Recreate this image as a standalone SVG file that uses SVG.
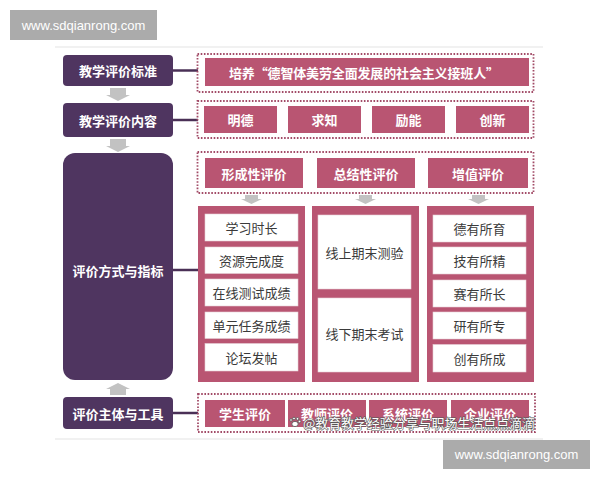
<svg xmlns="http://www.w3.org/2000/svg" width="600" height="480" viewBox="0 0 600 480">
<style>
text{font-family:"Noto Sans CJK SC","Liberation Sans",sans-serif;font-size:13px;text-anchor:middle;dominant-baseline:central}
.dark{fill:#4f3560}
.pink{fill:#b95572}
.white{fill:#fff;stroke:#e6cfd6;stroke-width:0.6}
.dot{fill:none;stroke:#a24b67;stroke-width:1.8;stroke-dasharray:1.6 1.6}
.lw{fill:#fff;font-weight:bold}
.ld{fill:#3a3a3a}
.arr{fill:#c2c2c2}
.conn{stroke:#4a3056;stroke-width:2.5}
.rule{stroke:#e3e3e3;stroke-width:1.2}
.wm{fill:#ababab}
.wmt{font-family:"Liberation Sans",Arial,sans-serif;font-size:13px;fill:#fff}
</style>
<rect width="600" height="480" fill="#fff"/>
<line class="rule" x1="55" y1="47" x2="543" y2="47"/>
<line class="rule" x1="55" y1="439" x2="543" y2="439"/>

<g id="connectors">
<line class="conn" x1="173" y1="70.5" x2="198" y2="70.5"/>
<line class="conn" x1="173" y1="120" x2="198" y2="120"/>
<line class="conn" x1="173" y1="270" x2="198" y2="270"/>
<line class="conn" x1="173" y1="413" x2="198" y2="413"/>
<path class="arr" d="M110,88 H126 V95 H130 L118,101 L106,95 H110 Z"/>
<path class="arr" d="M110,139 H126 V146 H130 L118,152 L106,146 H110 Z"/>
<path class="arr" d="M110,395 H126 V389 H130 L118,383 L106,389 H110 Z"/>
<path class="arr" d="M245,195 H258 V199 H262 L251.5,204 L241,199 H245 Z"/>
<path class="arr" d="M359,195 H372 V199 H376 L365.5,204 L355,199 H359 Z"/>
<path class="arr" d="M472,195 H485 V199 H489 L478.5,204 L468,199 H472 Z"/>
</g>

<g id="n-standard">
<rect class="dark" x="63" y="55" width="110" height="31" rx="4"/>
<text class="lw" x="118" y="70.5">教学评价标准</text>
</g>
<g id="n-content">
<rect class="dark" x="63" y="103" width="110" height="34" rx="4"/>
<text class="lw" x="118" y="120">教学评价内容</text>
</g>
<g id="n-method">
<rect class="dark" x="63" y="153" width="110" height="227" rx="12"/>
<text class="lw" x="118" y="270">评价方式与指标</text>
</g>
<g id="n-subject">
<rect class="dark" x="63" y="397" width="110" height="32" rx="4"/>
<text class="lw" x="118" y="413">评价主体与工具</text>
</g>

<g id="row-standard">
<rect class="dot" x="197.5" y="54" width="336" height="38"/>
<rect class="pink" x="205" y="58" width="324" height="28"/>
<text class="lw" x="364" y="72" textLength="270">培养“德智体美劳全面发展的社会主义接班人”</text>
</g>

<g id="row-content">
<rect class="dot" x="197.5" y="101" width="336" height="37"/>
<g id="c-mingde"><rect class="pink" x="204" y="106" width="73" height="27"/><text class="lw" x="240.5" y="119.5">明德</text></g>
<g id="c-qiuzhi"><rect class="pink" x="288" y="106" width="73" height="27"/><text class="lw" x="324.5" y="119.5">求知</text></g>
<g id="c-lineng"><rect class="pink" x="372" y="106" width="73" height="27"/><text class="lw" x="408.5" y="119.5">励能</text></g>
<g id="c-chuangxin"><rect class="pink" x="456" y="106" width="73" height="27"/><text class="lw" x="492.5" y="119.5">创新</text></g>
</g>

<g id="row-method">
<rect class="dot" x="197.5" y="152" width="336" height="41"/>
<g id="m-formative"><rect class="pink" x="205" y="158" width="98" height="30"/><text class="lw" x="254" y="173">形成性评价</text></g>
<g id="m-summative"><rect class="pink" x="317" y="158" width="98" height="30"/><text class="lw" x="366" y="173">总结性评价</text></g>
<g id="m-value"><rect class="pink" x="428" y="158" width="100" height="30"/><text class="lw" x="478" y="173">增值评价</text></g>
</g>

<g id="col-formative">
<rect class="pink" x="198" y="206" width="107" height="176"/>
<rect class="white" x="205" y="214" width="93" height="27"/><text class="ld" x="251.5" y="227.5">学习时长</text>
<rect class="white" x="205" y="247" width="93" height="26.5"/><text class="ld" x="251.5" y="260">资源完成度</text>
<rect class="white" x="205" y="279" width="93" height="27"/><text class="ld" x="251.5" y="292.5">在线测试成绩</text>
<rect class="white" x="205" y="312" width="93" height="26.5"/><text class="ld" x="251.5" y="325">单元任务成绩</text>
<rect class="white" x="205" y="343.5" width="93" height="27.5"/><text class="ld" x="251.5" y="357">论坛发帖</text>
</g>

<g id="col-summative">
<rect class="pink" x="312" y="206" width="107" height="176"/>
<rect class="white" x="318" y="215" width="93" height="74"/><text class="ld" x="364.5" y="252">线上期末测验</text>
<rect class="white" x="318" y="298" width="93" height="74"/><text class="ld" x="364.5" y="333">线下期末考试</text>
</g>

<g id="col-value">
<rect class="pink" x="427" y="206" width="107" height="176"/>
<rect class="white" x="433" y="215" width="93" height="27"/><text class="ld" x="479.5" y="228.5">德有所育</text>
<rect class="white" x="433" y="247" width="93" height="27"/><text class="ld" x="479.5" y="260.5">技有所精</text>
<rect class="white" x="433" y="280" width="93" height="27"/><text class="ld" x="479.5" y="293.5">赛有所长</text>
<rect class="white" x="433" y="312" width="93" height="27"/><text class="ld" x="479.5" y="325.5">研有所专</text>
<rect class="white" x="433" y="344.5" width="93" height="27.5"/><text class="ld" x="479.5" y="358">创有所成</text>
</g>

<g id="row-subject">
<rect class="dot" x="198" y="394" width="337" height="38"/>
<g id="s-student"><rect class="pink" x="205" y="400" width="80" height="27"/><text class="lw" x="245" y="413.5">学生评价</text></g>
<g id="s-teacher"><rect class="pink" x="288" y="400" width="78" height="27"/><text class="lw" x="327" y="413.5">教师评价</text></g>
<g id="s-system"><rect class="pink" x="369" y="400" width="78" height="27"/><text class="lw" x="408" y="413.5">系统评价</text></g>
<g id="s-company"><rect class="pink" x="451" y="400" width="78" height="27"/><text class="lw" x="490" y="413.5">企业评价</text></g>
</g>

<g id="overlay">
<g fill="#fff" stroke="#555" stroke-width="0.8">
<ellipse cx="295" cy="424" rx="3.2" ry="2.6"/>
<circle cx="291" cy="420" r="1.3"/>
<circle cx="294" cy="418.5" r="1.3"/>
<circle cx="297.5" cy="418.8" r="1.3"/>
<circle cx="299.5" cy="421.5" r="1.3"/>
</g>
<text x="419" y="422" textLength="232" style="fill:#fff;stroke:#555;stroke-width:1.2;paint-order:stroke">@教育教学经验分享与职场生活点点滴滴</text>
</g>

<g id="watermarks">
<rect class="wm" x="10" y="10" width="147" height="30"/>
<text class="wmt" x="83.5" y="25">www.sdqianrong.com</text>
<rect class="wm" x="443" y="440" width="147" height="29"/>
<text class="wmt" x="516.5" y="454.5">www.sdqianrong.com</text>
</g>
</svg>
